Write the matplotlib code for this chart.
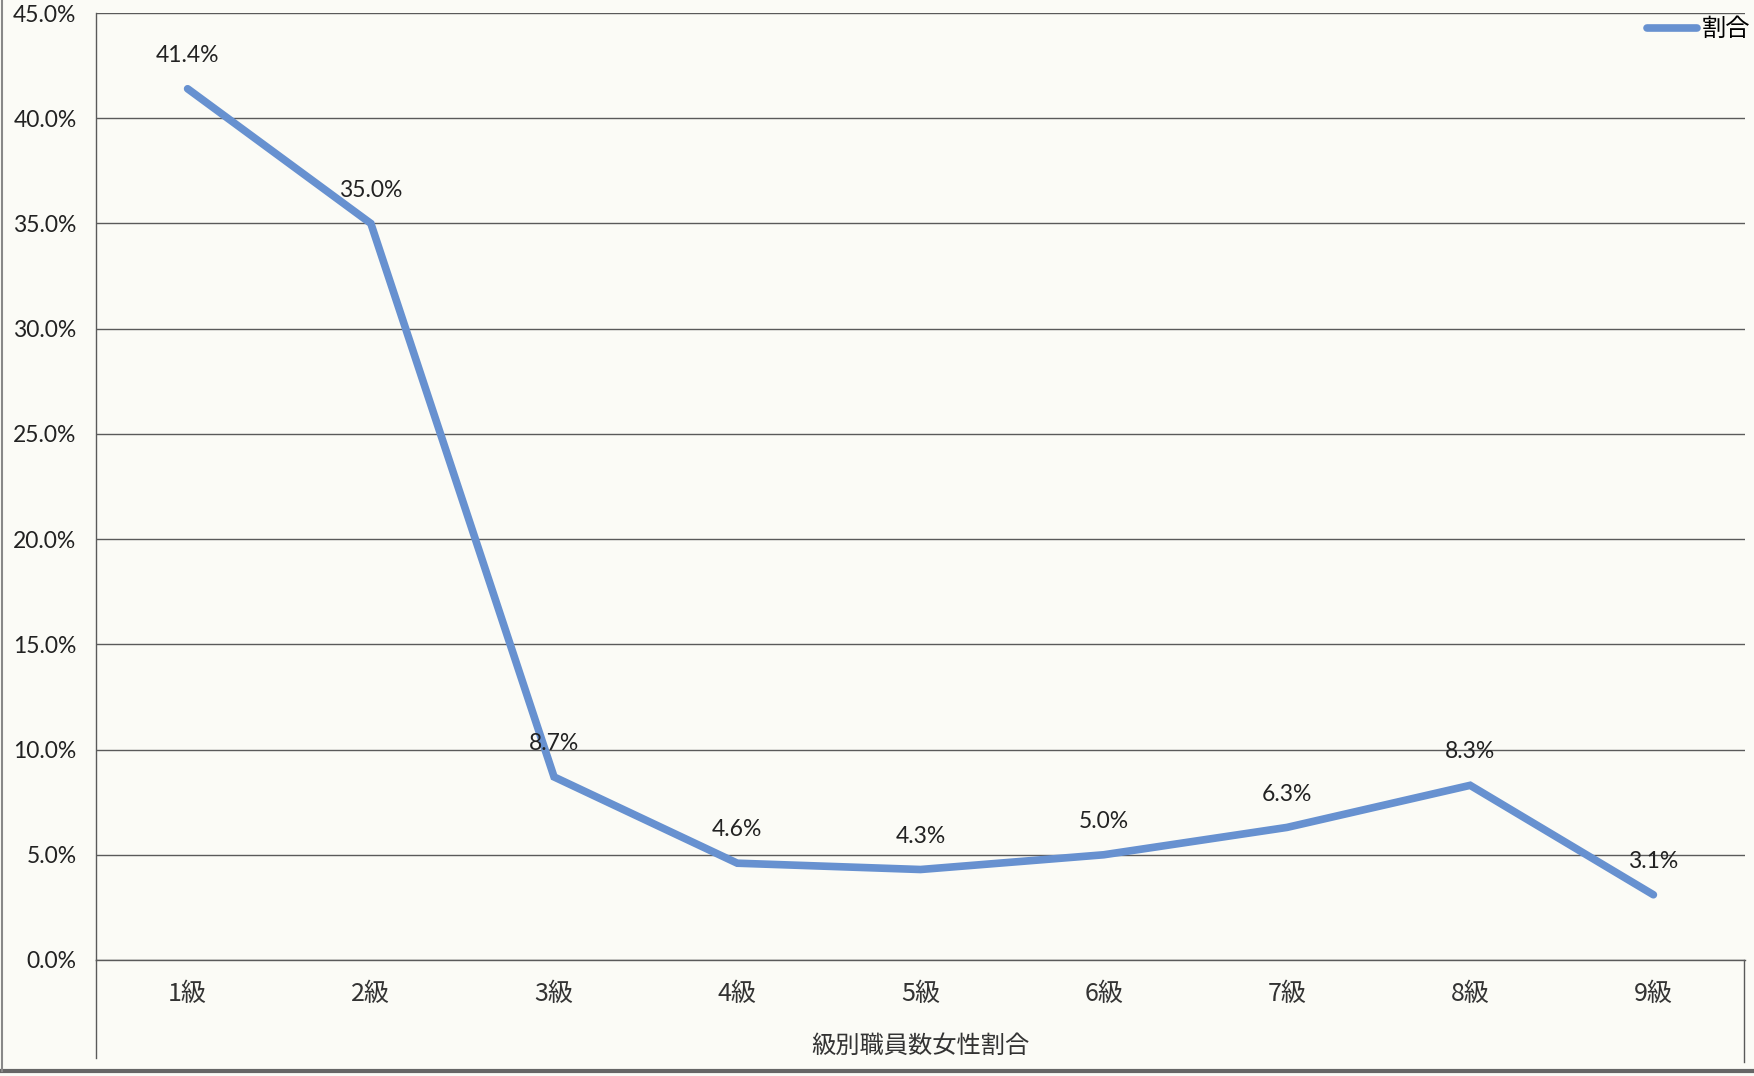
import matplotlib.pyplot as plt
from matplotlib.lines import Line2D

plt.rcParams['font.family'] = ['Lato', 'Noto Sans CJK JP', 'DejaVu Sans']

grades = ['1級', '2級', '3級', '4級', '5級', '6級', '7級', '8級', '9級']
ratio = [41.4, 35.0, 8.7, 4.6, 4.3, 5.0, 6.3, 8.3, 3.1]
yticks = [0, 5, 10, 15, 20, 25, 30, 35, 40, 45]

bg = '#fbfbf6'
line_col = '#6791d0'
grid_col = '#5a5a5a'

fig = plt.figure(figsize=(17.54, 10.76), dpi=100, facecolor=bg)
ax = fig.add_axes([96/1754, 1-960/1076, (1745-96)/1754, (960-13)/1076])
ax.set_facecolor(bg)

x = list(range(len(grades)))
ax.plot(x, ratio, color=line_col, lw=5.5, solid_capstyle='round',
        solid_joinstyle='miter', label='割合', zorder=3)

for xi, v in zip(x, ratio):
    ax.annotate(f'{v:.1f}%', (xi, v), xytext=(0, 24), textcoords='offset points',
                ha='center', va='center', fontsize=16.5, color='#222222', family='Lato')

ax.set_xlim(-0.5, 8.5)
ax.set_ylim(0, 45)
ax.set_yticks(yticks)
ax.set_yticklabels([f'{t:.1f}%' for t in yticks], fontsize=16.5, color='#222222')
ax.set_xticks(x)
ax.set_xticklabels(grades, fontsize=18, color='#333333', family='Noto Sans CJK JP')
ax.tick_params(axis='y', length=0, pad=14)
ax.tick_params(axis='x', length=0, pad=15)
ax.grid(axis='y', color=grid_col, lw=1.0)
ax.axhline(0, color=grid_col, lw=1.0, clip_on=False, zorder=1)
ax.set_axisbelow(True)

for s in ['top', 'right', 'bottom']:
    ax.spines[s].set_visible(False)
ax.spines['left'].set_color(grid_col)
ax.spines['left'].set_linewidth(1.0)

ax.set_xlabel('級別職員数女性割合', fontsize=17.5, color='#333333',
              family='Noto Sans CJK JP', labelpad=19)

# category-axis box below the plot area
ax.add_line(Line2D([0, 0], [0, -0.104], transform=ax.transAxes, color=grid_col,
                   lw=1.0, clip_on=False))
ax.add_line(Line2D([0.9994, 0.9994], [0, -0.108], transform=ax.transAxes,
                   color=grid_col, lw=1.0, clip_on=False))

# page edges from the scan
fig.add_artist(Line2D([0, 1], [1-1071/1076, 1-1071/1076], color='#666666', lw=3))
fig.add_artist(Line2D([1.5/1754, 1.5/1754], [1-1071/1076, 1], color='#888888', lw=1.5))

leg = ax.legend(loc='upper right', bbox_to_anchor=(1.012, 1.012), frameon=False,
                handlelength=2.05, handletextpad=0.2, borderaxespad=0.2,
                prop={'family': 'Noto Sans CJK JP', 'size': 17.5})

fig.savefig('out.png', dpi=100, facecolor=bg)
